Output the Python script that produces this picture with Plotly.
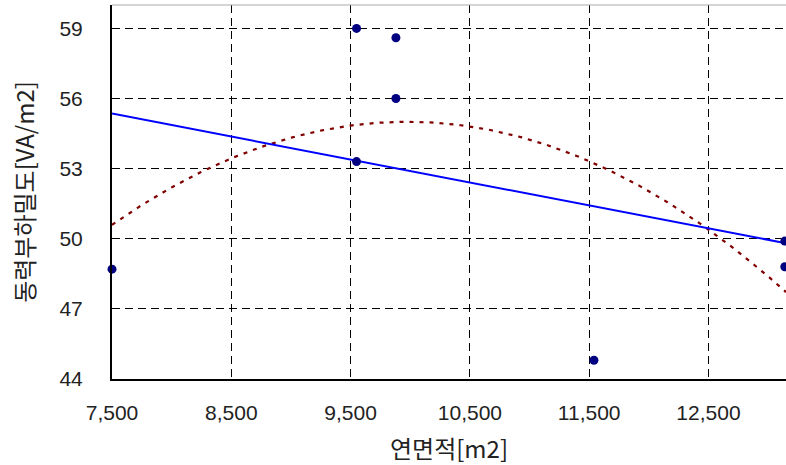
import numpy as np
import plotly.graph_objects as go

area = [7500, 9550, 9550, 9880, 9880, 11540, 13140, 13140]
density = [48.7, 59.0, 53.3, 58.6, 56.0, 44.8, 49.9, 48.8]
x_ticks = [7500, 8500, 9500, 10500, 11500, 12500]
y_ticks = [44, 47, 50, 53, 56, 59]

xs = np.linspace(7500, 13150, 200)
lin = np.polyval(np.polyfit(area, density, 1), xs)
quad = np.polyval(np.polyfit(area, density, 2), xs)

kfont = "Noto Sans CJK KR"
tfont = "Liberation Sans"
fig = go.Figure()
fig.add_trace(go.Scatter(x=xs, y=quad, mode="lines",
                         line=dict(color="#800000", width=2.2, dash="4px,6px"), hoverinfo="skip"))
fig.add_trace(go.Scatter(x=xs, y=lin, mode="lines",
                         line=dict(color="#0000FF", width=2), hoverinfo="skip"))
fig.add_trace(go.Scatter(x=area, y=density, mode="markers", cliponaxis=False,
                         marker=dict(color="#000080", size=9)))

grid = dict(showgrid=True, gridcolor="#000000", griddash="8px,5px", gridwidth=1)
fig.update_layout(
    width=786, height=465, showlegend=False,
    paper_bgcolor="white", plot_bgcolor="white",
    margin=dict(l=112, r=0, t=5, b=86, autoexpand=False),
    font=dict(family=tfont, size=21, color="#222"),
    xaxis=dict(range=[7500, 13150], tickvals=x_ticks, tickformat=",", **grid,
               showline=True, linecolor="#000", linewidth=2, zeroline=False,
               ticks="", ticklabelstandoff=14, automargin=False,
               title=dict(text="연면적[m2]", standoff=20, font=dict(family=kfont, size=24))),
    yaxis=dict(range=[44, 60], tickvals=y_ticks, **grid,
               showline=True, linecolor="#000", linewidth=2, zeroline=False,
               ticks="", ticklabelstandoff=23, automargin=False,
               title=dict(text="동력부하밀도[VA/m2]", standoff=18, font=dict(family=kfont, size=24))),
)
fig.add_shape(type="line", xref="paper", yref="paper", x0=0, x1=1, y0=1, y1=1,
              line=dict(color="#aaa", width=1))
fig.write_html("out.html", config={"displayModeBar": False},
               post_script="document.body.style.margin='0';")
